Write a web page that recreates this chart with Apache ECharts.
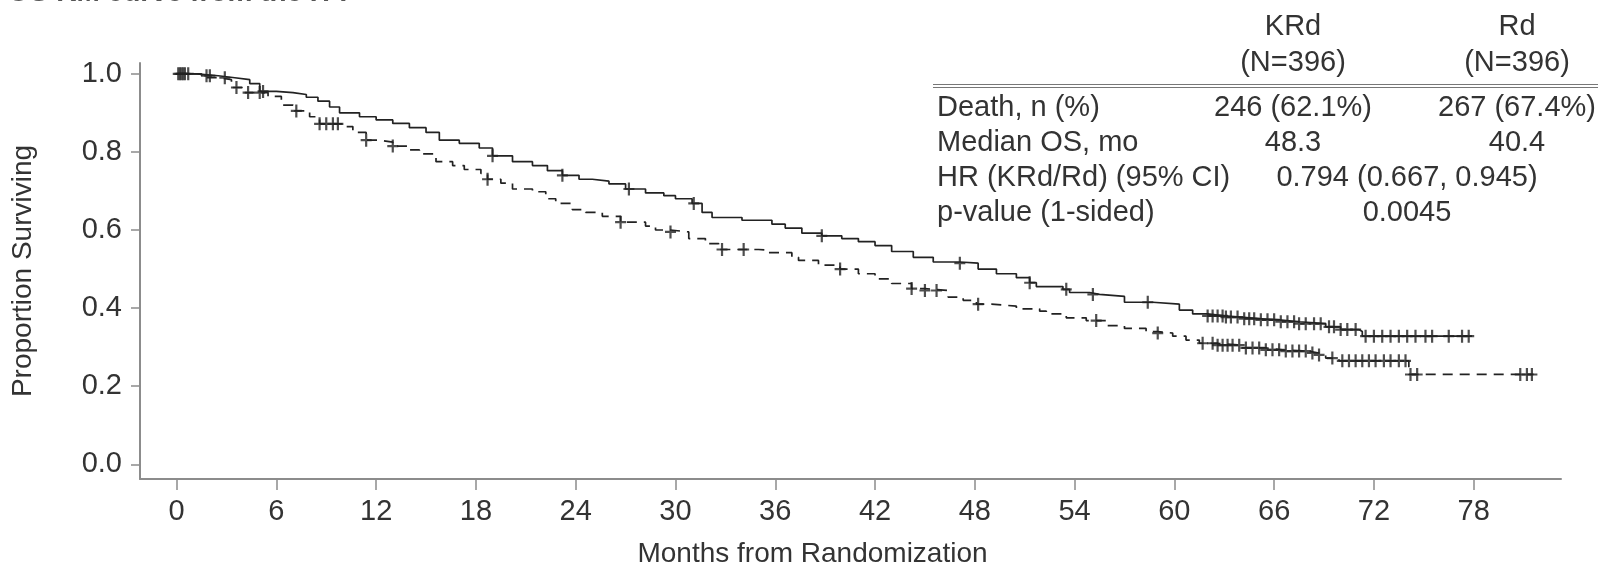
<!DOCTYPE html>
<html lang="en">

<head>
    <meta charset="UTF-8">
    <title>OS KM curve</title>
    <script src="https://cdn.jsdelivr.net/npm/echarts@6/dist/echarts.min.js"></script>
    <style>
        html, body { margin: 0; padding: 0; background: #fff; }
        #main { width: 1601px; height: 573px; }
    </style>
</head>

<body>
    <div id="main"></div>
    <script>
        // KM step data (months, proportion surviving)
        var krdTime = [0, 1.2, 2.5, 3.5, 4.4, 5.0, 6.0, 7.0, 7.8, 8.5, 9.2, 9.8, 11.0, 12.0, 13.0, 14.0, 15.0, 15.8, 17.0, 18.2, 19.0, 20.2, 21.4, 22.3, 23.2, 24.2, 25.0, 26.0, 27.0, 28.2, 29.3, 30.0, 31.0, 31.6, 32.2, 34.0, 35.8, 36.6, 37.6, 38.8, 40.0, 41.0, 42.0, 43.0, 44.3, 45.5, 47.1, 48.2, 49.3, 50.5, 51.3, 51.7, 53.3, 53.7, 54.9, 55.5, 57.0, 58.7, 60.3, 61.1, 62.0, 63.0, 64.0, 65.0, 66.3, 67.5, 69.1, 70.0, 71.1, 71.3, 77.9];
        var krdSurv = [1.0, 0.995, 0.99, 0.985, 0.975, 0.955, 0.952, 0.947, 0.94, 0.93, 0.915, 0.90, 0.89, 0.882, 0.873, 0.862, 0.85, 0.83, 0.822, 0.81, 0.79, 0.775, 0.765, 0.752, 0.74, 0.73, 0.725, 0.718, 0.705, 0.695, 0.688, 0.68, 0.668, 0.645, 0.632, 0.625, 0.615, 0.605, 0.592, 0.585, 0.578, 0.57, 0.56, 0.545, 0.53, 0.518, 0.515, 0.50, 0.488, 0.478, 0.465, 0.455, 0.448, 0.44, 0.435, 0.43, 0.415, 0.41, 0.395, 0.385, 0.38, 0.377, 0.373, 0.37, 0.365, 0.36, 0.352, 0.345, 0.34, 0.328, 0.328];
        var rdTime = [0, 1.5, 2.5, 3.3, 4.0, 5.5, 6.3, 7.0, 8.0, 8.6, 10.0, 10.6, 11.4, 12.2, 13.0, 14.0, 14.6, 15.6, 16.6, 17.3, 18.3, 18.7, 19.5, 20.2, 21.4, 22.2, 22.8, 23.8, 24.6, 25.6, 26.7, 28.2, 28.8, 29.7, 30.8, 31.8, 32.6, 35.0, 35.6, 37.0, 37.4, 38.6, 39.9, 41.0, 42.0, 43.0, 44.2, 45.0, 46.4, 47.3, 48.1, 49.0, 50.5, 51.9, 52.3, 53.5, 54.7, 55.9, 57.0, 58.3, 59.0, 59.9, 60.7, 61.5, 62.5, 64.0, 65.5, 66.5, 68.0, 68.7, 69.1, 69.9, 74.1, 81.6];
        var rdSurv = [1.0, 0.99, 0.985, 0.965, 0.952, 0.942, 0.92, 0.905, 0.89, 0.872, 0.865, 0.85, 0.83, 0.825, 0.815, 0.805, 0.795, 0.775, 0.765, 0.755, 0.745, 0.73, 0.72, 0.705, 0.698, 0.68, 0.668, 0.652, 0.645, 0.635, 0.62, 0.61, 0.60, 0.595, 0.578, 0.565, 0.55, 0.548, 0.542, 0.53, 0.522, 0.51, 0.50, 0.488, 0.475, 0.463, 0.45, 0.445, 0.428, 0.42, 0.41, 0.405, 0.398, 0.392, 0.385, 0.375, 0.368, 0.355, 0.348, 0.34, 0.336, 0.328, 0.318, 0.31, 0.305, 0.298, 0.293, 0.29, 0.285, 0.28, 0.272, 0.265, 0.23, 0.23];

        // censored times (+ marks)
        var krdCensor = [0.1, 0.3, 0.5, 0.7, 1.8, 2.0, 2.9, 5.2, 19.0, 23.2, 27.2, 31.1, 38.8, 47.1, 51.3, 53.5, 55.1, 58.4, 62.0, 62.3, 62.6, 62.9, 63.1, 63.4, 63.8, 64.2, 64.5, 64.8, 65.2, 65.6, 66.0, 66.4, 66.8, 67.2, 67.5, 67.9, 68.4, 68.8, 69.3, 69.6, 70.0, 70.4, 70.9, 71.5, 72.0, 72.5, 73.0, 73.5, 74.0, 74.5, 75.1, 75.5, 76.5, 77.3, 77.7];
        var rdCensor = [0.2, 0.4, 3.6, 4.3, 5.0, 7.2, 8.6, 9.0, 9.4, 9.7, 11.4, 13.0, 18.7, 26.7, 29.7, 32.8, 34.1, 39.9, 44.2, 45.0, 45.7, 48.2, 55.3, 59.0, 61.7, 62.3, 62.6, 62.9, 63.2, 63.5, 63.9, 64.3, 64.7, 65.1, 65.5, 65.9, 66.3, 66.7, 67.1, 67.5, 67.9, 68.3, 68.7, 69.5, 70.1, 70.5, 70.9, 71.3, 71.7, 72.1, 72.6, 73.0, 73.5, 73.9, 74.2, 74.6, 80.8, 81.2, 81.5];

        var xTicks = [0, 6, 12, 18, 24, 30, 36, 42, 48, 54, 60, 66, 72, 78];
        var yTicks = [0, 0.2, 0.4, 0.6, 0.8, 1.0];

        // summary table
        var armNames = ['KRd', 'Rd'];
        var armN = ['(N=396)', '(N=396)'];
        var rowLabels = ['Death, n (%)', 'Median OS, mo', 'HR (KRd/Rd) (95% CI)', 'p-value (1-sided)'];
        var deaths = ['246 (62.1%)', '267 (67.4%)'];
        var medians = ['48.3', '40.4'];
        var hrText = '0.794 (0.667, 0.945)';
        var pText = '0.0045';

        var FONT = '"Liberation Sans", Arial, sans-serif';
        var TXT = '#333';
        var AXIS = '#8c8c8c';

        function stepData(t, s) {
            return t.map(function (v, i) { return [v, s[i]]; });
        }
        // value of the step curve at a censor time
        function survAt(t, s, x) {
            var v = s[0];
            for (var i = 0; i < t.length; i++) {
                if (t[i] <= x) v = s[i];
            }
            return v;
        }
        function censorData(c, t, s) {
            return c.map(function (x) { return [x, survAt(t, s, x)]; });
        }

        var plus = 'path://M4,0H6V12H4Z M0,5H10V7H0Z';

        var chart = echarts.init(document.getElementById('main'));

        var textStyle = { fontFamily: FONT, fontSize: 29, fill: TXT };
        var graphics = [
            // cut-off heading at the very top
            { type: 'text', left: 8, top: -21, style: { text: 'OS KM curve from the ITT', font: 'bold 28px ' + FONT, fill: '#555' } },
            { type: 'line', shape: { x1: 933, y1: 84.5, x2: 1598, y2: 84.5 }, style: { stroke: '#777', lineWidth: 1.2 } },
            { type: 'line', shape: { x1: 933, y1: 87.5, x2: 1598, y2: 87.5 }, style: { stroke: '#777', lineWidth: 1.2 } }
        ];
        var colX = [1293, 1517];
        for (var i = 0; i < 2; i++) {
            graphics.push({ type: 'text', x: colX[i], y: 27, style: Object.assign({ text: armNames[i], align: 'center', verticalAlign: 'middle' }, textStyle) });
            graphics.push({ type: 'text', x: colX[i], y: 63, style: Object.assign({ text: armN[i], align: 'center', verticalAlign: 'middle' }, textStyle) });
            graphics.push({ type: 'text', x: colX[i], y: 108, style: Object.assign({ text: deaths[i], align: 'center', verticalAlign: 'middle' }, textStyle) });
            graphics.push({ type: 'text', x: colX[i], y: 143, style: Object.assign({ text: medians[i], align: 'center', verticalAlign: 'middle' }, textStyle) });
        }
        var rowY = [108, 143, 178, 213];
        rowLabels.forEach(function (lab, i) {
            graphics.push({ type: 'text', x: 937, y: rowY[i], style: Object.assign({ text: lab, align: 'left', verticalAlign: 'middle' }, textStyle) });
        });
        graphics.push({ type: 'text', x: 1407, y: 178, style: Object.assign({ text: hrText, align: 'center', verticalAlign: 'middle' }, textStyle) });
        graphics.push({ type: 'text', x: 1407, y: 213, style: Object.assign({ text: pText, align: 'center', verticalAlign: 'middle' }, textStyle) });

        var option = {
            animation: false,
            backgroundColor: '#fff',
            grid: { left: 140, right: 40, top: 63, bottom: 86.3 },
            xAxis: {
                type: 'value',
                min: -2.2,
                max: 83.25,
                name: 'Months from Randomization',
                nameLocation: 'middle',
                nameGap: 61,
                nameTextStyle: { fontFamily: FONT, fontSize: 28, color: TXT, padding: [0, 76, 0, 0] },
                axisLine: { onZero: false, lineStyle: { color: AXIS, width: 2 } },
                axisTick: { customValues: xTicks, length: 11, lineStyle: { color: AXIS, width: 1.5 } },
                axisLabel: { customValues: xTicks, margin: 18, fontFamily: FONT, fontSize: 29, color: TXT },
                splitLine: { show: false }
            },
            yAxis: {
                type: 'value',
                min: -0.0377,
                max: 1.0277,
                name: 'Proportion Surviving',
                nameLocation: 'middle',
                nameGap: 103,
                nameTextStyle: { fontFamily: FONT, fontSize: 28, color: TXT },
                axisLine: { show: true, onZero: false, lineStyle: { color: AXIS, width: 2 } },
                axisTick: { show: true, customValues: yTicks, length: 9, lineStyle: { color: AXIS, width: 1.5 } },
                axisLabel: {
                    customValues: yTicks, margin: 18, fontFamily: FONT, fontSize: 29, color: TXT,
                    formatter: function (v) { return v.toFixed(1); }
                },
                splitLine: { show: false }
            },
            graphic: graphics,
            series: [{
                name: 'KRd',
                type: 'line',
                step: 'end',
                showSymbol: false,
                data: stepData(krdTime, krdSurv),
                lineStyle: { color: '#222', width: 1.7 }
            }, {
                name: 'Rd',
                type: 'line',
                step: 'end',
                showSymbol: false,
                data: stepData(rdTime, rdSurv),
                lineStyle: { color: '#222', width: 1.7, type: [10, 7] }
            }, {
                name: 'KRd censored',
                type: 'scatter',
                symbol: plus,
                symbolSize: [11, 13],
                data: censorData(krdCensor, krdTime, krdSurv),
                itemStyle: { color: '#222' }
            }, {
                name: 'Rd censored',
                type: 'scatter',
                symbol: plus,
                symbolSize: [11, 13],
                data: censorData(rdCensor, rdTime, rdSurv),
                itemStyle: { color: '#222' }
            }]
        };

        chart.setOption(option);
    </script>
</body>

</html>
